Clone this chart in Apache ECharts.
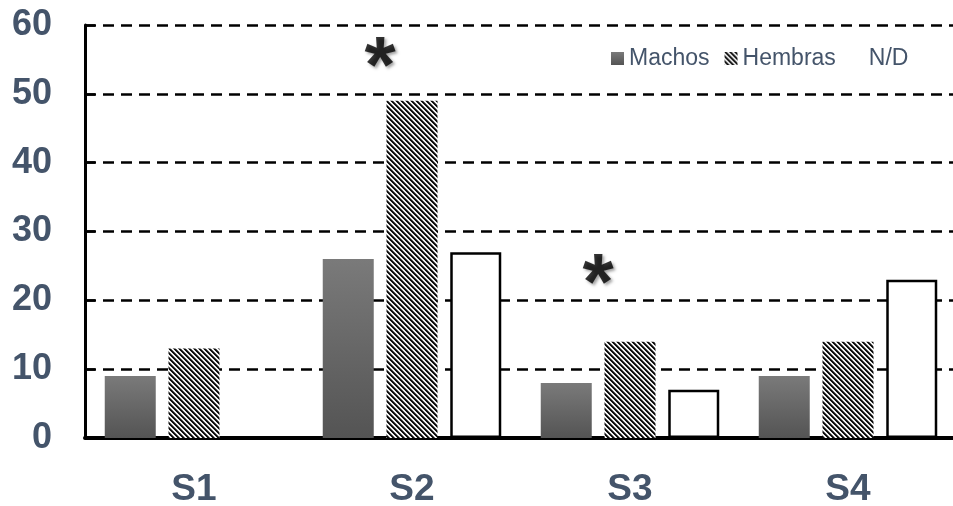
<!DOCTYPE html>
<html>
<head>
<meta charset="utf-8">
<script src="https://cdn.jsdelivr.net/npm/echarts@6/dist/echarts.min.js"></script>
<style>
  html, body { margin: 0; padding: 0; background: #fff; }
  #chart { width: 953px; height: 506px; }
</style>
</head>
<body>
<div id="chart"></div>
<script>
// Sampling sites and counts per group
const categories = ['S1', 'S2', 'S3', 'S4'];
const machos = [9, 26, 8, 9];
const hembras = [13, 49, 14, 14];
const noDeterminado = [null, 27, 7, 23];
// Significance asterisks: height (in axis units) above each site, null = none
const significance = [null, 55.8, 24.3, null];
const yTicks = [0, 10, 20, 30, 40, 50, 60];

const FONT = '"Liberation Sans", Arial, sans-serif';
const TEXT_COLOR = '#44546A';

// Diagonal stripe tile for the "Hembras" bars
function stripeTile() {
  const size = 10;
  const c = document.createElement('canvas');
  c.width = size; c.height = size;
  const ctx = c.getContext('2d');
  const img = ctx.createImageData(size, size);
  for (let y = 0; y < size; y++) {
    for (let x = 0; x < size; x++) {
      const k = ((x - y) % 5 + 5) % 5;
      let v = 255;
      if (k === 0 || k === 1) v = 15;
      else if (k === 2) v = 100;
      else if (k === 4) v = 225;
      const i = (y * size + x) * 4;
      img.data[i] = v; img.data[i + 1] = v; img.data[i + 2] = v; img.data[i + 3] = 255;
    }
  }
  ctx.putImageData(img, 0, 0);
  return c;
}

const stripes = { image: stripeTile(), repeat: 'repeat' };
const machosFill = new echarts.graphic.LinearGradient(0, 0, 0, 1, [
  { offset: 0, color: '#7a7a7a' },
  { offset: 1, color: '#545454' }
]);

const chart = echarts.init(document.getElementById('chart'));
chart.setOption({
  animation: false,
  backgroundColor: '#fff',
  grid: { left: 85, width: 872, top: 25, bottom: 68, outerBoundsMode: 'none', containLabel: false },
  legend: {
    left: 606,
    top: 42,
    itemWidth: 13,
    itemHeight: 13,
    itemGap: 15,
    textStyle: { fontFamily: FONT, fontSize: 23, color: TEXT_COLOR },
    data: [
      { name: 'Machos', icon: 'rect', itemStyle: { color: machosFill } },
      { name: 'Hembras', icon: 'rect', itemStyle: { color: stripes } },
      { name: 'N/D', icon: 'rect', itemStyle: { color: '#fff', borderWidth: 0 } }
    ]
  },
  xAxis: {
    type: 'category',
    data: categories,
    axisLine: { show: true, lineStyle: { color: '#000', width: 4 } },
    axisTick: { show: false },
    axisLabel: {
      margin: 33,
      fontFamily: FONT, fontSize: 37, fontWeight: 'bold', color: TEXT_COLOR
    }
  },
  yAxis: {
    type: 'value',
    min: yTicks[0],
    max: yTicks[yTicks.length - 1],
    interval: 10,
    axisLine: { show: true, lineStyle: { color: '#000', width: 3 } },
    axisTick: { show: true, inside: true, length: 10, lineStyle: { color: '#000', width: 2.5 } },
    axisLabel: {
      margin: 33,
      fontFamily: FONT, fontSize: 36, fontWeight: 'bold', color: TEXT_COLOR
    },
    splitLine: { show: true, lineStyle: { color: '#000', width: 2.5, type: [11, 7] } }
  },
  series: [
    {
      name: 'Machos', type: 'bar', data: machos,
      barWidth: 51, barGap: '25%',
      itemStyle: { color: machosFill }
    },
    {
      name: 'Hembras', type: 'bar', data: hembras,
      barWidth: 51, barGap: '25%',
      itemStyle: { color: stripes }
    },
    {
      name: 'N/D', type: 'bar', data: noDeterminado,
      barWidth: 51, barGap: '25%',
      itemStyle: { color: '#fff', borderColor: '#000', borderWidth: 2.5 }
    },
    {
      name: 'sig', type: 'scatter', data: significance,
      symbolSize: 1,
      itemStyle: { color: 'rgba(0,0,0,0)' },
      silent: true,
      z: 10,
      label: {
        show: true,
        position: 'inside',
        formatter: '*',
        offset: [-32, 16],
        fontFamily: FONT, fontSize: 80, fontWeight: 'bold', color: '#000',
        textShadowColor: 'rgba(0,0,0,0.45)', textShadowBlur: 3,
        textShadowOffsetX: 2, textShadowOffsetY: 2
      }
    }
  ]
});
</script>
</body>
</html>
